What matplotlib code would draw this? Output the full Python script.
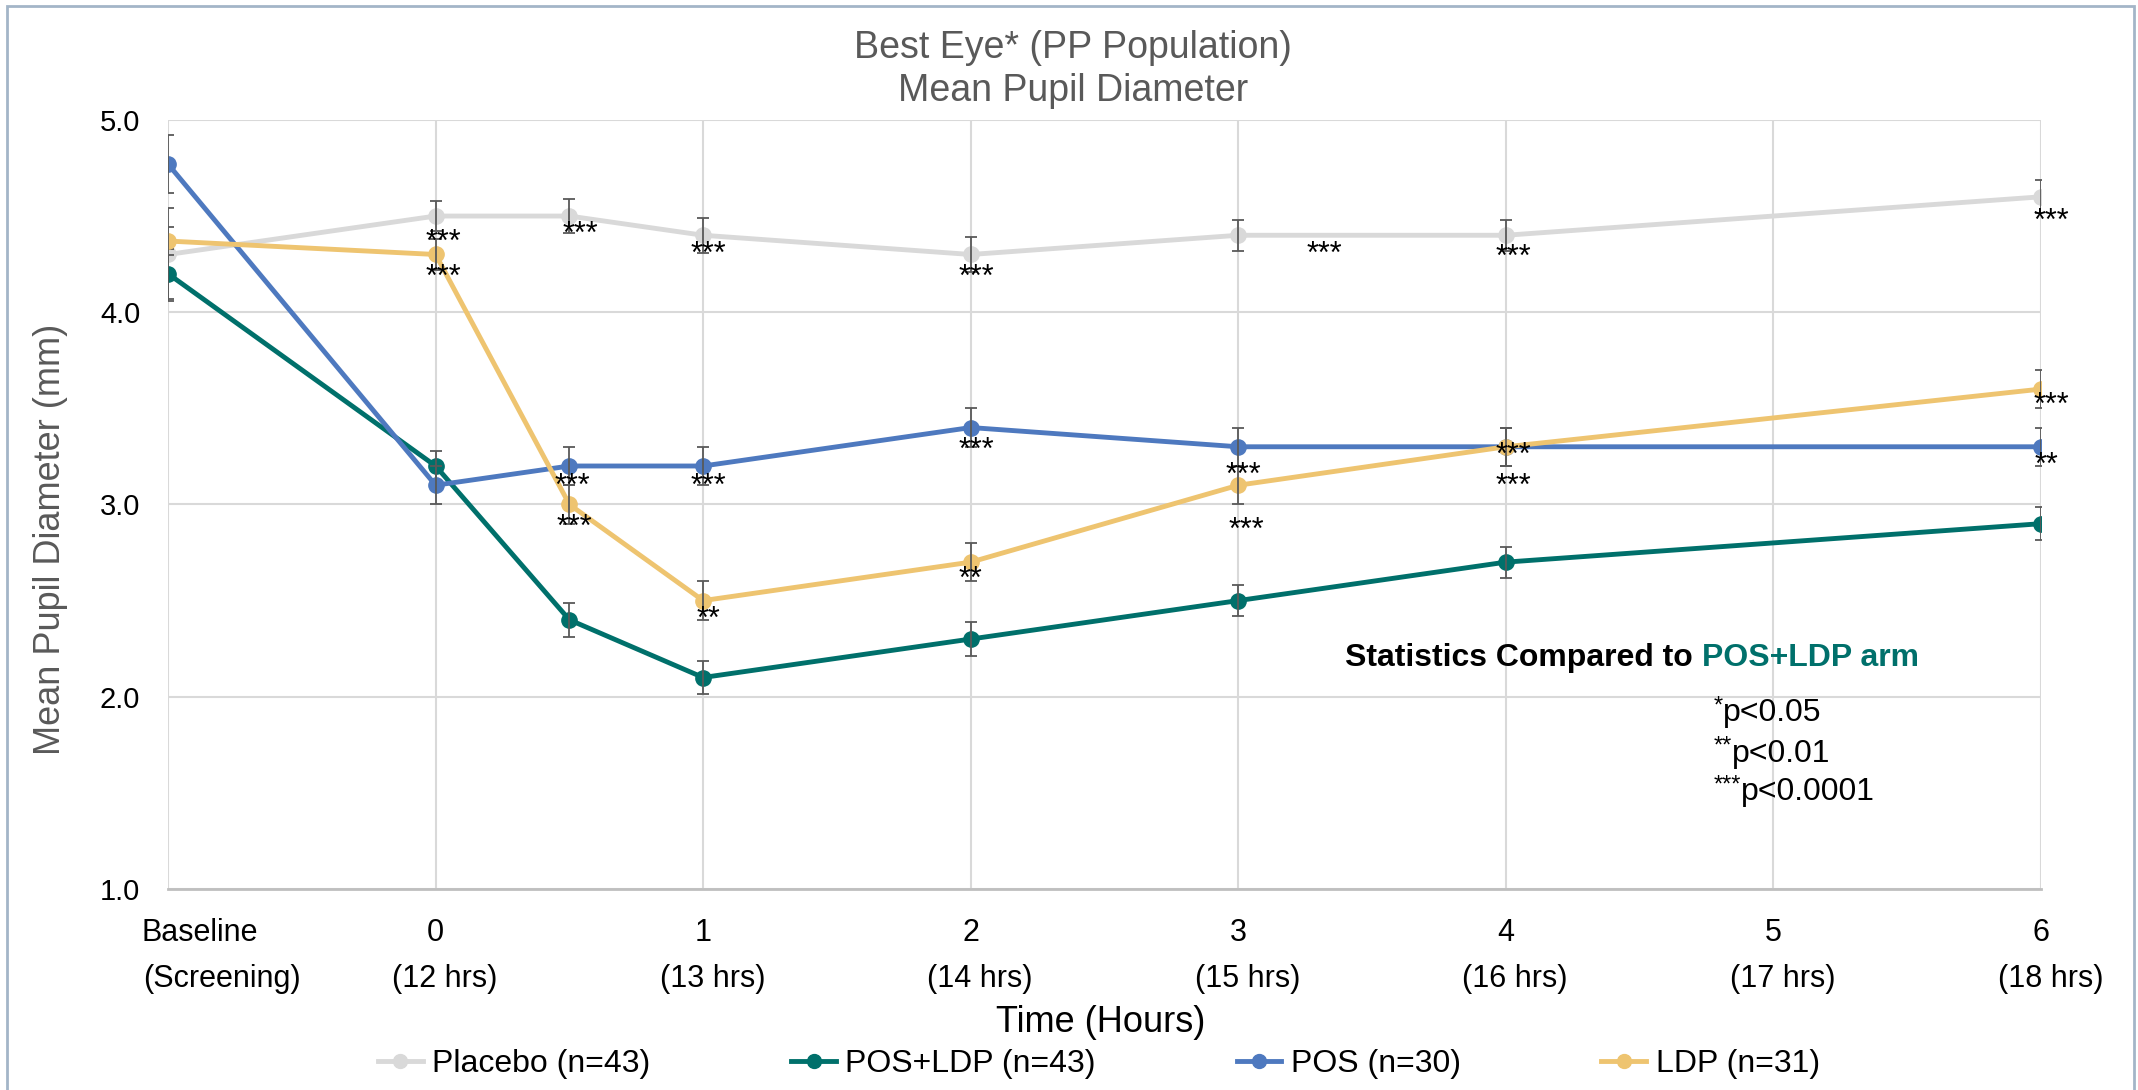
import matplotlib
matplotlib.use('Agg')
from matplotlib import pyplot as plt
from matplotlib import patches as patches
from matplotlib.lines import Line2D
from matplotlib import transforms

plt.rcParams['font.family'] = ['Liberation Sans', 'DejaVu Sans']

# x positions: -1 = baseline (screening), then hours after dosing
time_x = [-1, 0, 0.5, 1, 2, 3, 4, 6]
tick_x = [-1, 0, 1, 2, 3, 4, 5, 6]
tick_top = ['Baseline', '0', '1', '2', '3', '4', '5', '6']
tick_bottom = ['(Screening)', '(12 hrs)', '(13 hrs)', '(14 hrs)',
               '(15 hrs)', '(16 hrs)', '(17 hrs)', '(18 hrs)']

series_names = ['Placebo (n=43)', 'POS+LDP (n=43)', 'POS (n=30)', 'LDP (n=31)']
placebo_mean = [4.30, 4.50, 4.50, 4.40, 4.30, 4.40, 4.40, 4.60]
placebo_err = [0.24, 0.08, 0.09, 0.09, 0.09, 0.08, 0.08, 0.085]
pos_ldp_mean = [4.20, 3.20, 2.40, 2.10, 2.30, 2.50, 2.70, 2.90]
pos_ldp_err = [0.13, 0.08, 0.09, 0.085, 0.09, 0.08, 0.08, 0.085]
pos_mean = [4.77, 3.10, 3.20, 3.20, 3.40, 3.30, 3.30, 3.30]
pos_err = [0.15, 0.10, 0.10, 0.10, 0.10, 0.10, 0.10, 0.10]
ldp_mean = [4.37, 4.30, 3.00, 2.50, 2.70, 3.10, 3.30, 3.60]
ldp_err = [0.075, 0.08, 0.10, 0.10, 0.10, 0.10, 0.10, 0.10]

colors = ['#D9D9D9', '#00706B', '#4E79BF', '#EEC470']

# significance marks (x, y in data units, label)
sig_marks = [
    (0.03, 4.36, '***'), (0.03, 4.18, '***'),
    (0.54, 4.40, '***'), (0.51, 3.09, '***'), (0.52, 2.88, '***'),
    (1.02, 4.30, '***'), (1.02, 3.09, '***'), (1.02, 2.40, '**'),
    (2.02, 4.18, '***'), (2.02, 3.28, '***'), (2.00, 2.61, '**'),
    (3.32, 4.30, '***'), (3.02, 3.15, '***'), (3.03, 2.86, '***'),
    (4.03, 4.28, '***'), (4.03, 3.25, '***'), (4.03, 3.09, '***'),
    (6.04, 4.47, '***'), (6.04, 3.51, '***'), (6.02, 3.20, '**'),
]
p_stars = ['*', '**', '***']
p_values = ['p<0.05', 'p<0.01', 'p<0.0001']

fig = plt.figure(figsize=(21.38, 10.90), dpi=100)
ax = fig.add_axes([0.0786, 0.1844, 0.876, 0.7056])

means = [placebo_mean, pos_ldp_mean, pos_mean, ldp_mean]
errs = [placebo_err, pos_ldp_err, pos_err, ldp_err]
for mean, err, color in zip(means, errs, colors):
    ax.plot(time_x, mean, '-o', color=color, lw=3.5, ms=11, zorder=3)
    ax.errorbar(time_x, mean, yerr=err, fmt='none', ecolor='#595959',
                elinewidth=1.3, capsize=4, capthick=1.3, zorder=3)

for x, y, label in sig_marks:
    ax.text(x, y, label, ha='center', va='center', fontsize=22, color='black', zorder=5)

ax.set_xlim(-1, 6)
ax.set_ylim(1, 5)
ax.set_xticks(tick_x)
ax.set_xticklabels([])
ax.set_yticks([1, 2, 3, 4, 5])
ax.set_yticklabels(['1.0', '2.0', '3.0', '4.0', '5.0'], fontsize=21)
ax.tick_params(length=0, pad=20)
ax.grid(True, color='#D9D9D9', lw=1.5)
ax.set_axisbelow(True)
for side in ['top', 'left', 'right']:
    ax.spines[side].set_visible(False)
ax.spines['bottom'].set_color('#BFBFBF')
ax.spines['bottom'].set_linewidth(2)

# two-row category labels under the axis
trans = transforms.blended_transform_factory(ax.transData, ax.transAxes)
for x, top, bottom in zip(tick_x, tick_top, tick_bottom):
    if x == -1:
        ax.text(x + 0.12, -0.057, top, transform=trans, ha='center', va='center', fontsize=22)
        ax.text(x + 0.20, -0.117, bottom, transform=trans, ha='center', va='center', fontsize=22)
    else:
        ax.text(x, -0.057, top, transform=trans, ha='center', va='center', fontsize=22)
        ax.text(x + 0.035, -0.117, bottom, transform=trans, ha='center', va='center', fontsize=22)

fig.text(0.502, 0.956, 'Best Eye* (PP Population)', ha='center', va='center',
         fontsize=27, color='#595959')
fig.text(0.502, 0.9165, 'Mean Pupil Diameter', ha='center', va='center',
         fontsize=27, color='#595959')
fig.text(0.0235, 0.505, 'Mean Pupil Diameter (mm)', rotation=90, ha='center',
         va='center', fontsize=26, color='#595959')
fig.text(0.515, 0.0615, 'Time (Hours)', ha='center', va='center', fontsize=26)

t1 = ax.text(3.40, 2.20, 'Statistics Compared to ', ha='left', va='center',
             fontsize=23, fontweight='bold', color='black')
ax.annotate('POS+LDP arm', xy=(1, 0), xycoords=t1, ha='left', va='bottom',
            fontsize=23, fontweight='bold', color='#00706B')
for y, stars, pval in zip([1.91, 1.70, 1.50], p_stars, p_values):
    s = ax.text(4.777, y + 0.04, stars, ha='left', va='center', fontsize=17, color='black')
    ax.annotate(pval, xy=(1, 0.5), xycoords=s, xytext=(0, -5),
                textcoords='offset points', ha='left', va='center',
                fontsize=23, color='black')

handles = [Line2D([0], [0], color=c, lw=3.5, marker='o', ms=10) for c in colors]
fig.legend(handles, series_names, loc='center', bbox_to_anchor=(0.514, 0.024),
           ncol=4, frameon=False, fontsize=23, columnspacing=4.4,
           handlelength=1.4, handletextpad=0.3)

# thin frame round the chart area
frame = patches.Rectangle((7 / 2138, -0.02), 2127 / 2138, 1.0 - 6 / 1090 + 0.02,
                          transform=fig.transFigure, fill=False,
                          edgecolor='#A3B5C8', linewidth=2)
fig.patches.append(frame)

fig.savefig('out.png', dpi=100)
